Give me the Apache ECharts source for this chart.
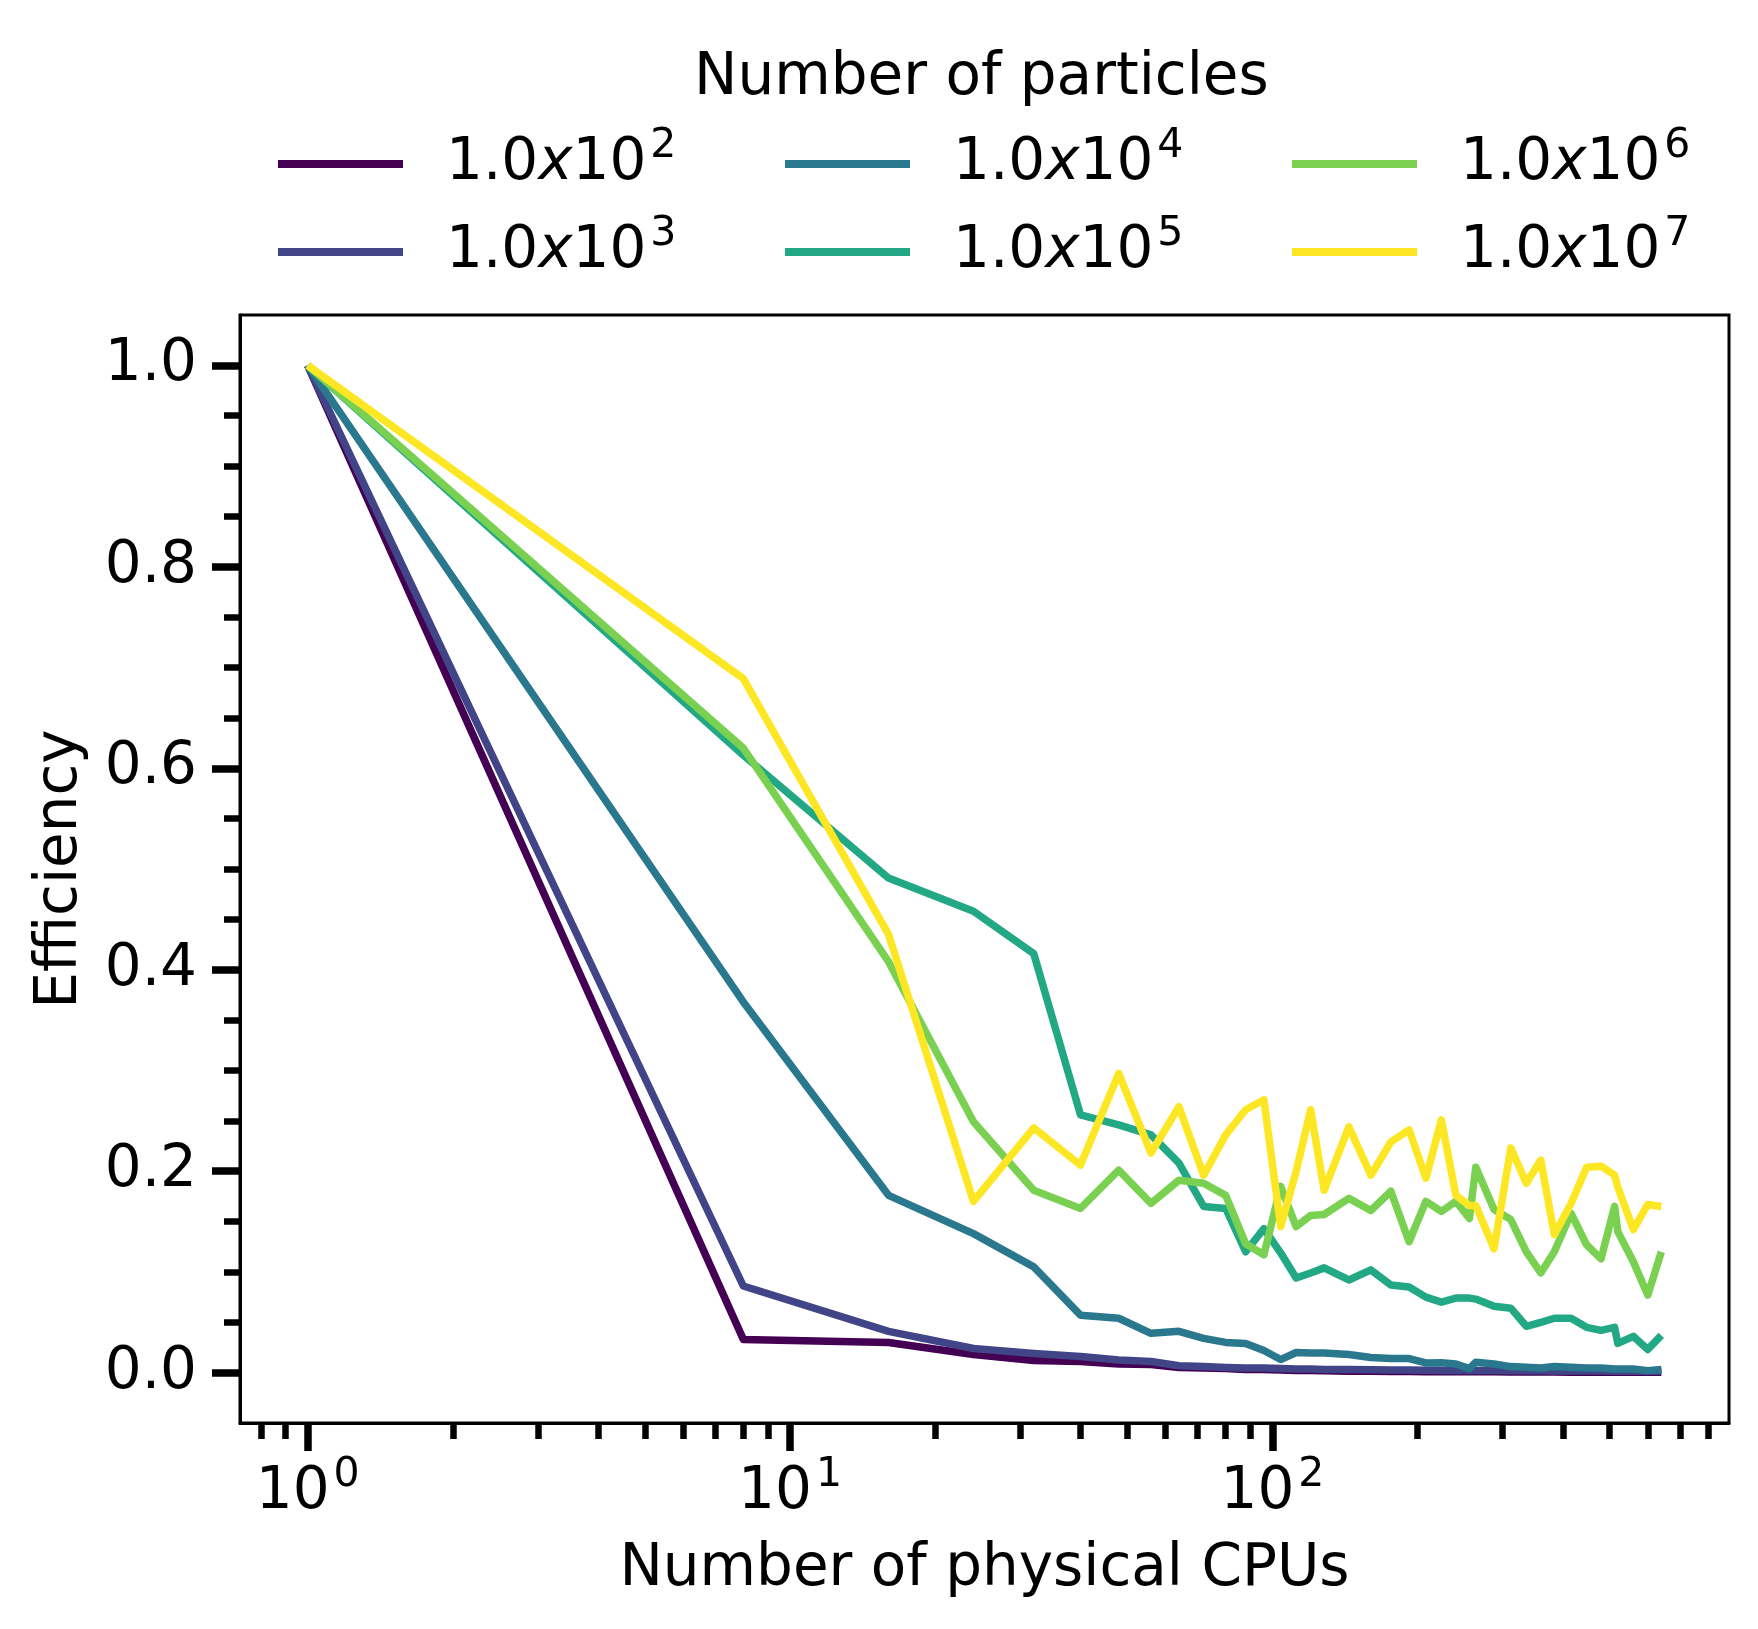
<!DOCTYPE html>
<html>
<head>
<meta charset="utf-8">
<title>Efficiency vs number of physical CPUs</title>
<script src="https://cdn.jsdelivr.net/npm/echarts@6/dist/echarts.min.js"></script>
<style>
  html, body { margin: 0; padding: 0; background: #fff; }
  #main { width: 1758px; height: 1629px; }
</style>
</head>
<body>
<div id="main"></div>
<script>
// x: number of physical CPUs
var cpus = [1, 8, 16, 24, 32, 40, 48, 56, 64, 72, 80, 88, 96, 104, 112, 120, 128,
    144, 160, 176, 192, 208, 224, 240, 256, 264, 288, 312, 336, 360, 384,
    416, 448, 480, 512, 520, 560, 600, 640];

// efficiency per number of particles
var eff1e2 = [1.0, 0.033, 0.030, 0.018, 0.012, 0.011, 0.0085, 0.008, 0.005, 0.0045, 0.004, 0.003, 0.003,
    0.0025, 0.002, 0.002, 0.0018, 0.0015, 0.0015, 0.0012, 0.0012, 0.001, 0.001, 0.001, 0.0008, 0.0008,
    0.0008, 0.0007, 0.0007, 0.0006, 0.0006, 0.0005, 0.0005, 0.0005, 0.0004, 0.0004, 0.0004, 0.0003, 0.0003];
var eff1e3 = [1.0, 0.086, 0.041, 0.024, 0.019, 0.016, 0.0125, 0.011, 0.0068, 0.006, 0.0052, 0.0046, 0.0045,
    0.004, 0.0036, 0.0035, 0.0032, 0.003, 0.0028, 0.0026, 0.0025, 0.0024, 0.0022, 0.0022, 0.002, 0.002,
    0.002, 0.0019, 0.0018, 0.0018, 0.0017, 0.0017, 0.0016, 0.0016, 0.0015, 0.0015, 0.0015, 0.0014, 0.0014];
var eff1e4 = [1.0, 0.368, 0.176, 0.138, 0.105, 0.057, 0.054, 0.039, 0.041, 0.034, 0.030, 0.029, 0.022,
    0.013, 0.020, 0.0195, 0.0195, 0.018, 0.015, 0.014, 0.014, 0.0096, 0.0099, 0.0086, 0.004, 0.0103,
    0.0086, 0.006, 0.0053, 0.0046, 0.006, 0.0053, 0.0046, 0.0046, 0.0036, 0.0036, 0.0036, 0.002, 0.003];
var eff1e5 = [1.0, 0.613, 0.491, 0.458, 0.416, 0.256, 0.246, 0.236, 0.208, 0.165, 0.163, 0.120, 0.143,
    0.119, 0.094, 0.099, 0.104, 0.092, 0.102, 0.087, 0.085, 0.075, 0.070, 0.074, 0.074, 0.073,
    0.066, 0.064, 0.046, 0.050, 0.054, 0.054, 0.045, 0.042, 0.045, 0.029, 0.036, 0.023, 0.037];
var eff1e6 = [1.0, 0.620, 0.408, 0.249, 0.181, 0.163, 0.201, 0.168, 0.191, 0.188, 0.176, 0.128, 0.117,
    0.185, 0.145, 0.156, 0.157, 0.173, 0.161, 0.180, 0.130, 0.170, 0.160, 0.170, 0.153, 0.204,
    0.162, 0.152, 0.120, 0.099, 0.120, 0.158, 0.127, 0.113, 0.165, 0.140, 0.110, 0.077, 0.120];
var eff1e7 = [1.0, 0.689, 0.435, 0.170, 0.243, 0.206, 0.297, 0.218, 0.264, 0.196, 0.236, 0.261, 0.271,
    0.145, 0.200, 0.261, 0.181, 0.244, 0.196, 0.229, 0.241, 0.193, 0.251, 0.176, 0.166, 0.166,
    0.123, 0.223, 0.188, 0.211, 0.137, 0.168, 0.204, 0.205, 0.196, 0.184, 0.142, 0.167, 0.165];

var particleExps = [2, 3, 4, 5, 6, 7];
var seriesNames = ['1.0x10^2', '1.0x10^3', '1.0x10^4', '1.0x10^5', '1.0x10^6', '1.0x10^7'];
var effs = [eff1e2, eff1e3, eff1e4, eff1e5, eff1e6, eff1e7];
// viridis, 6 steps
var lineColors = ['#440154', '#414487', '#2a788e', '#22a884', '#7ad151', '#fde725'];

var yMajorTicks = [0, 0.2, 0.4, 0.6, 0.8, 1.0];
var xMajorTicks = [1, 10, 100];

var FONT = 'DejaVu Sans';
var FS = 58;
var myChart = echarts.init(document.getElementById('main'));

// 5% margin on each side of the log range, like matplotlib
var logLo = Math.log10(Math.min.apply(null, cpus));
var logHi = Math.log10(Math.max.apply(null, cpus));
var pad = (logHi - logLo) * 0.05;
var xLo = logLo - pad, xHi = logHi + pad;

// minor log ticks: 2..9 of every decade inside the axis
var xMinorTicks = [];
for (var d = -1; d <= 2; d++) {
    for (var k = 2; k <= 9; k++) {
        var lv = Math.log10(k * Math.pow(10, d));
        if (lv > xLo && lv < xHi) xMinorTicks.push(lv);
    }
}
// minor y ticks every 0.05
var yMinorTicks = [];
for (var i = 1; i < 20; i++) {
    if (i % 4 !== 0) yMinorTicks.push(+(i * 0.05).toFixed(2));
}

// superscript text ("10" + exponent)
var supRich = {
    m: { fontFamily: FONT, fontSize: FS, color: '#000' },
    x: { fontFamily: FONT, fontSize: FS, fontStyle: 'italic', color: '#000' },
    s: { fontFamily: FONT, fontSize: 41, color: '#000', padding: [0, 0, 35, 4] }
};

// legend: 3 columns x 2 rows, filled column by column
var legendCols = [278, 785, 1292];
var legendRows = [126, 214];
var legends = seriesNames.map(function (n, i) {
    return {
        data: [n],
        left: legendCols[Math.floor(i / 2)],
        top: legendRows[i % 2],
        padding: 0,
        icon: 'rect',
        itemWidth: 125,
        itemHeight: 8,
        selectedMode: false,
        itemStyle: { borderWidth: 0 },
        formatter: function () {
            return '{m|1.0}{x|x}{m|10}{s|' + particleExps[i] + '}';
        },
        textStyle: { padding: [0, 0, 0, 38], rich: supRich }
    };
});

var option = {
    animation: false,
    backgroundColor: '#fff',
    title: {
        text: 'Number of particles',
        left: 694,
        top: 50,
        padding: 0,
        textStyle: { fontFamily: FONT, fontSize: FS, fontWeight: 'normal', color: '#000' }
    },
    legend: legends,
    grid: {
        left: 240, right: 29, top: 315, bottom: 206,
        show: true, borderColor: '#000', borderWidth: 3,
        backgroundColor: 'transparent',
        outerBoundsMode: 'none'
    },
    xAxis: [
        {   // data axis (hidden)
            type: 'log',
            min: Math.pow(10, xLo),
            max: Math.pow(10, xHi),
            show: false
        },
        {   // visible decades
            type: 'value', min: xLo, max: xHi, position: 'bottom',
            axisLine: { show: true, onZero: false, lineStyle: { color: '#000', width: 3 } },
            axisTick: { show: true, customValues: xMajorTicks.map(Math.log10), length: 28,
                lineStyle: { color: '#000', width: 7.5 } },
            axisLabel: { customValues: xMajorTicks.map(Math.log10), margin: 32, rich: supRich,
                formatter: function (v) { return '{m|10}{s|' + Math.round(v) + '}'; } },
            splitLine: { show: false },
            name: 'Number of physical CPUs', nameLocation: 'middle', nameGap: 118,
            nameTextStyle: { fontFamily: FONT, fontSize: FS, color: '#000' }
        },
        {   // minor ticks
            type: 'value', min: xLo, max: xHi, position: 'bottom',
            axisLine: { show: false, onZero: false },
            axisTick: { show: true, customValues: xMinorTicks, length: 16,
                lineStyle: { color: '#000', width: 6.5 } },
            axisLabel: { show: false },
            splitLine: { show: false }
        }
    ],
    yAxis: [
        {
            type: 'value', min: -0.05, max: 1.05, position: 'left',
            axisLine: { show: true, onZero: false, lineStyle: { color: '#000', width: 3 } },
            axisTick: { show: true, customValues: yMajorTicks, length: 28,
                lineStyle: { color: '#000', width: 7.5 } },
            axisLabel: { customValues: yMajorTicks, margin: 43,
                fontFamily: FONT, fontSize: FS, color: '#000',
                formatter: function (v) { return v.toFixed(1); } },
            splitLine: { show: false },
            name: 'Efficiency', nameLocation: 'middle', nameGap: 150,
            nameTextStyle: { fontFamily: FONT, fontSize: FS, color: '#000' }
        },
        {
            type: 'value', min: -0.05, max: 1.05, position: 'left',
            axisLine: { show: false, onZero: false },
            axisTick: { show: true, customValues: yMinorTicks, length: 16,
                lineStyle: { color: '#000', width: 6.5 } },
            axisLabel: { show: false },
            splitLine: { show: false }
        }
    ],
    series: seriesNames.map(function (n, i) {
        return {
            name: n,
            type: 'line',
            xAxisIndex: 0,
            yAxisIndex: 0,
            data: cpus.map(function (c, j) { return [c, effs[i][j]]; }),
            symbol: 'none',
            showSymbol: false,
            color: lineColors[i],
            lineStyle: { width: 7.5, color: lineColors[i], join: 'round' },
            emphasis: { disabled: true }
        };
    })
};

myChart.setOption(option);
</script>
</body>
</html>
